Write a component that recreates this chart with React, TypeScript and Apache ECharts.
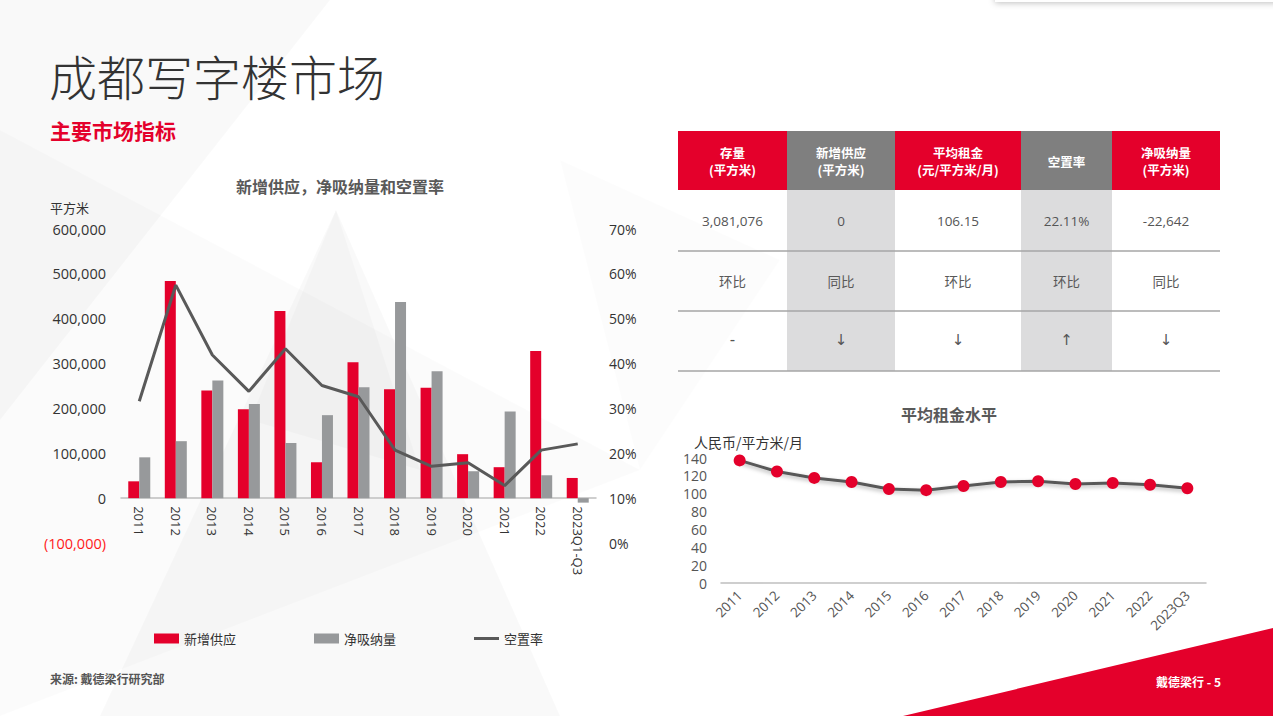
import React, { useEffect, useRef } from 'react';
import * as echarts from 'echarts';

// ---------- data ----------
const years = ['2011', '2012', '2013', '2014', '2015', '2016', '2017', '2018', '2019', '2020', '2021', '2022', '2023Q1-Q3'];
const newSupply = [37500, 484000, 240000, 198000, 417000, 80000, 303000, 243000, 246000, 98000, 69000, 328000, 45000];
const netAbsorption = [91000, 127000, 262000, 210000, 123000, 185000, 247000, 437000, 283000, 60000, 193000, 51000, -10000];
const vacancyRate = [31.6, 57.5, 41.9, 33.8, 43.3, 35.1, 32.6, 20.7, 17.1, 17.9, 12.8, 20.7, 22.1];

const rentYears = ['2011', '2012', '2013', '2014', '2015', '2016', '2017', '2018', '2019', '2020', '2021', '2022', '2023Q3'];
const avgRent = [137.3, 124.9, 117.7, 113.1, 105.2, 104.0, 108.6, 113.1, 113.9, 110.9, 112.0, 110.1, 106.15];

const tableHeaders = [['存量', '(平方米)'], ['新增供应', '(平方米)'], ['平均租金', '(元/平方米/月)'], ['空置率'], ['净吸纳量', '(平方米)']];
const tableValues = ['3,081,076', '0', '106.15', '22.11%', '-22,642'];
const tableCompare = ['环比', '同比', '环比', '环比', '同比'];
const tableTrend = ['-', '↓', '↓', '↑', '↓'];

const legendNames = ['新增供应', '净吸纳量', '空置率'];

// ---------- style ----------
const RED = '#e4002b';
const GRAY_BAR = '#97999b';
const DARK = '#595959';
const NUM_FONT = '"Open Sans", "Noto Sans CJK SC", sans-serif';
const CJK_FONT = '"Noto Sans CJK SC", "Open Sans", sans-serif';

const txt = (x: number, y: number, text: string, o: any = {}) => ({
  type: 'text',
  x,
  y,
  z: o.z ?? 20,
  style: {
    text,
    fill: o.fill ?? '#555',
    fontSize: o.fontSize ?? 13,
    fontWeight: o.fontWeight ?? 'normal',
    fontFamily: o.fontFamily ?? CJK_FONT,
    lineHeight: o.lineHeight,
    align: o.align ?? 'center',
    verticalAlign: o.verticalAlign ?? 'middle',
    textAlign: o.align ?? 'center',
    textVerticalAlign: o.verticalAlign ?? 'middle',
  },
});

function buildTable() {
  const cols = [678, 787, 895, 1021, 1112, 1220];
  const headTop = 131;
  const headBottom = 190;
  const rowBottoms = [251, 311, 371];
  const els: any[] = [];
  for (let i = 0; i < 5; i++) {
    const x0 = cols[i];
    const w = cols[i + 1] - cols[i];
    const isGray = i % 2 === 1;
    els.push({ type: 'rect', z: 10, shape: { x: x0, y: headTop, width: w, height: headBottom - headTop }, style: { fill: isGray ? '#7f7f7f' : RED } });
    if (isGray) {
      els.push({ type: 'rect', z: 10, shape: { x: x0, y: headBottom, width: w, height: rowBottoms[2] - headBottom }, style: { fill: '#dcdcdd' } });
    }
    const cx = x0 + w / 2;
    const lines = tableHeaders[i];
    if (lines.length === 2) {
      els.push(txt(cx, 152, lines[0], { fill: '#fff', fontWeight: 'bold', fontSize: 12.5, lineHeight: 14 }));
      els.push(txt(cx, 169, lines[1], { fill: '#fff', fontWeight: 'bold', fontSize: 12.5, lineHeight: 14 }));
    } else {
      els.push(txt(cx, 161, lines[0], { fill: '#fff', fontWeight: 'bold', fontSize: 12.5, lineHeight: 14 }));
    }
    els.push(txt(cx, 221, tableValues[i], { fill: '#555', fontFamily: NUM_FONT, fontSize: 13.5 }));
    els.push(txt(cx, 281, tableCompare[i], { fill: '#595959', fontSize: 13.5 }));
    els.push(txt(cx, 340, tableTrend[i], { fill: '#555', fontSize: 15, fontFamily: '"DejaVu Sans", sans-serif' }));
  }
  rowBottoms.forEach((y) => {
    els.push({ type: 'line', z: 12, shape: { x1: cols[0], y1: y, x2: cols[5], y2: y }, style: { stroke: '#a6a6a6', lineWidth: 1.5 } });
  });
  return els;
}

const background: any[] = [
  { type: 'polygon', z: -5, shape: { points: [[0, 0], [330, 0], [0, 420]] }, style: { fill: 'rgba(0,0,0,0.024)' } },
  { type: 'polygon', z: -5, shape: { points: [[0, 130], [640, 470], [0, 716]] }, style: { fill: 'rgba(0,0,0,0.016)' } },
  { type: 'polygon', z: -5, shape: { points: [[336, 210], [100, 716], [560, 716]] }, style: { fill: 'rgba(0,0,0,0.022)' } },
  { type: 'polygon', z: -5, shape: { points: [[336, 210], [250, 420], [420, 470]] }, style: { fill: 'rgba(0,0,0,0.018)' } },
  { type: 'polygon', z: -5, shape: { points: [[560, 160], [780, 260], [640, 470]] }, style: { fill: 'rgba(0,0,0,0.01)' } },
  { type: 'rect', z: 5, shape: { x: 995, y: -12, width: 300, height: 14 }, style: { fill: '#fff', shadowColor: 'rgba(0,0,0,0.25)', shadowBlur: 6, shadowOffsetY: 1 } },
  { type: 'polygon', z: 5, shape: { points: [[903, 716], [1273, 628], [1273, 716]] }, style: { fill: RED } },
];

const option: any = {
  animation: false,
  backgroundColor: '#ffffff',
  textStyle: { fontFamily: NUM_FONT },
  graphic: [
    ...background,
    txt(49, 75, '成都写字楼市场', { fill: '#333', fontSize: 48, fontWeight: 300, align: 'left' }),
    txt(50, 130, '主要市场指标', { fill: RED, fontSize: 21, fontWeight: 'bold', align: 'left' }),
    txt(340, 186, '新增供应，净吸纳量和空置率', { fill: DARK, fontSize: 16, fontWeight: 'bold' }),
    txt(50, 207, '平方米', { fill: '#333', fontSize: 13, align: 'left' }),
    txt(949, 414, '平均租金水平', { fill: DARK, fontSize: 16, fontWeight: 'bold' }),
    txt(694, 442, '人民币/平方米/月', { fill: '#333', fontSize: 14, align: 'left' }),
    txt(50, 678, '来源: 戴德梁行研究部', { fill: '#555', fontSize: 12, fontWeight: 'bold', align: 'left' }),
    txt(1221, 681, '戴德梁行 - 5', { fill: '#fff', fontSize: 12, fontWeight: 'bold', align: 'right' }),
    ...buildTable(),
  ],
  legend: {
    data: [
      { name: legendNames[0], icon: 'rect' },
      { name: legendNames[1], icon: 'rect' },
      { name: legendNames[2], icon: 'path://M0,0 L25,0 L25,3 L0,3 Z', itemStyle: { color: DARK } },
    ],
    left: 149,
    top: 627,
    itemWidth: 25,
    itemHeight: 10,
    itemGap: 78,
    textStyle: { fontSize: 13, color: '#333', fontFamily: CJK_FONT },
  },
  grid: [
    { left: 121, top: 229, width: 475, height: 314 },
    { left: 721, top: 458, width: 485, height: 125 },
  ],
  xAxis: [
    {
      type: 'category',
      gridIndex: 0,
      data: years,
      offset: -44.86,
      axisLine: { onZero: false, lineStyle: { color: '#bfbfbf', width: 1.5 } },
      axisTick: { show: false },
      axisLabel: { rotate: -90, interval: 0, fontSize: 13, color: '#333', margin: 8, fontFamily: NUM_FONT },
    },
    {
      type: 'category',
      gridIndex: 1,
      data: rentYears,
      axisLine: { lineStyle: { color: '#bfbfbf', width: 1.5 } },
      axisTick: { show: false },
      axisLabel: { rotate: 45, interval: 0, fontSize: 13.5, color: '#555', margin: 10, fontFamily: NUM_FONT },
    },
  ],
  yAxis: [
    {
      type: 'value',
      gridIndex: 0,
      min: -100000,
      max: 600000,
      interval: 100000,
      splitLine: { show: false },
      axisLine: { show: false },
      axisTick: { show: false },
      axisLabel: {
        fontSize: 14.5,
        color: '#333',
        margin: 15,
        fontFamily: NUM_FONT,
        formatter: (v: number) => (v < 0 ? '{neg|(' + Math.abs(v).toLocaleString('en-US') + ')}' : v.toLocaleString('en-US')),
        rich: { neg: { color: '#ff1a1a', fontSize: 14.5, fontFamily: NUM_FONT } },
      },
    },
    {
      type: 'value',
      gridIndex: 0,
      position: 'right',
      min: 0,
      max: 70,
      interval: 10,
      splitLine: { show: false },
      axisLine: { show: false },
      axisTick: { show: false },
      axisLabel: { fontSize: 14, color: '#333', margin: 13, fontFamily: NUM_FONT, formatter: '{value}%' },
    },
    {
      type: 'value',
      gridIndex: 1,
      min: 0,
      max: 140,
      interval: 20,
      splitLine: { show: false },
      axisLine: { show: false },
      axisTick: { show: false },
      axisLabel: { fontSize: 14, color: '#555', margin: 14, fontFamily: NUM_FONT },
    },
  ],
  series: [
    {
      name: legendNames[0],
      type: 'bar',
      xAxisIndex: 0,
      yAxisIndex: 0,
      data: newSupply,
      barWidth: 11,
      barGap: '0%',
      itemStyle: { color: RED },
    },
    {
      name: legendNames[1],
      type: 'bar',
      xAxisIndex: 0,
      yAxisIndex: 0,
      data: netAbsorption,
      barWidth: 11,
      barGap: '0%',
      itemStyle: { color: GRAY_BAR },
    },
    {
      name: legendNames[2],
      type: 'line',
      xAxisIndex: 0,
      yAxisIndex: 1,
      data: vacancyRate,
      symbol: 'none',
      z: 5,
      lineStyle: { color: DARK, width: 3 },
      itemStyle: { color: DARK },
    },
    {
      name: '平均租金',
      type: 'line',
      xAxisIndex: 1,
      yAxisIndex: 2,
      data: avgRent,
      symbol: 'circle',
      symbolSize: 12,
      lineStyle: { color: DARK, width: 3, shadowColor: 'rgba(0,0,0,0.3)', shadowBlur: 4, shadowOffsetY: 2 },
      itemStyle: { color: RED },
    },
  ],
};

export default function App() {
  const ref = useRef<HTMLDivElement>(null);
  useEffect(() => {
    if (!ref.current) return;
    const chart = echarts.init(ref.current, null, { renderer: 'svg' });
    chart.setOption(option);
    return () => chart.dispose();
  }, []);
  return (
    <div
      ref={ref}
      style={{ position: 'fixed', left: 0, top: 0, width: 1273, height: 716, background: '#fff' }}
    />
  );
}
